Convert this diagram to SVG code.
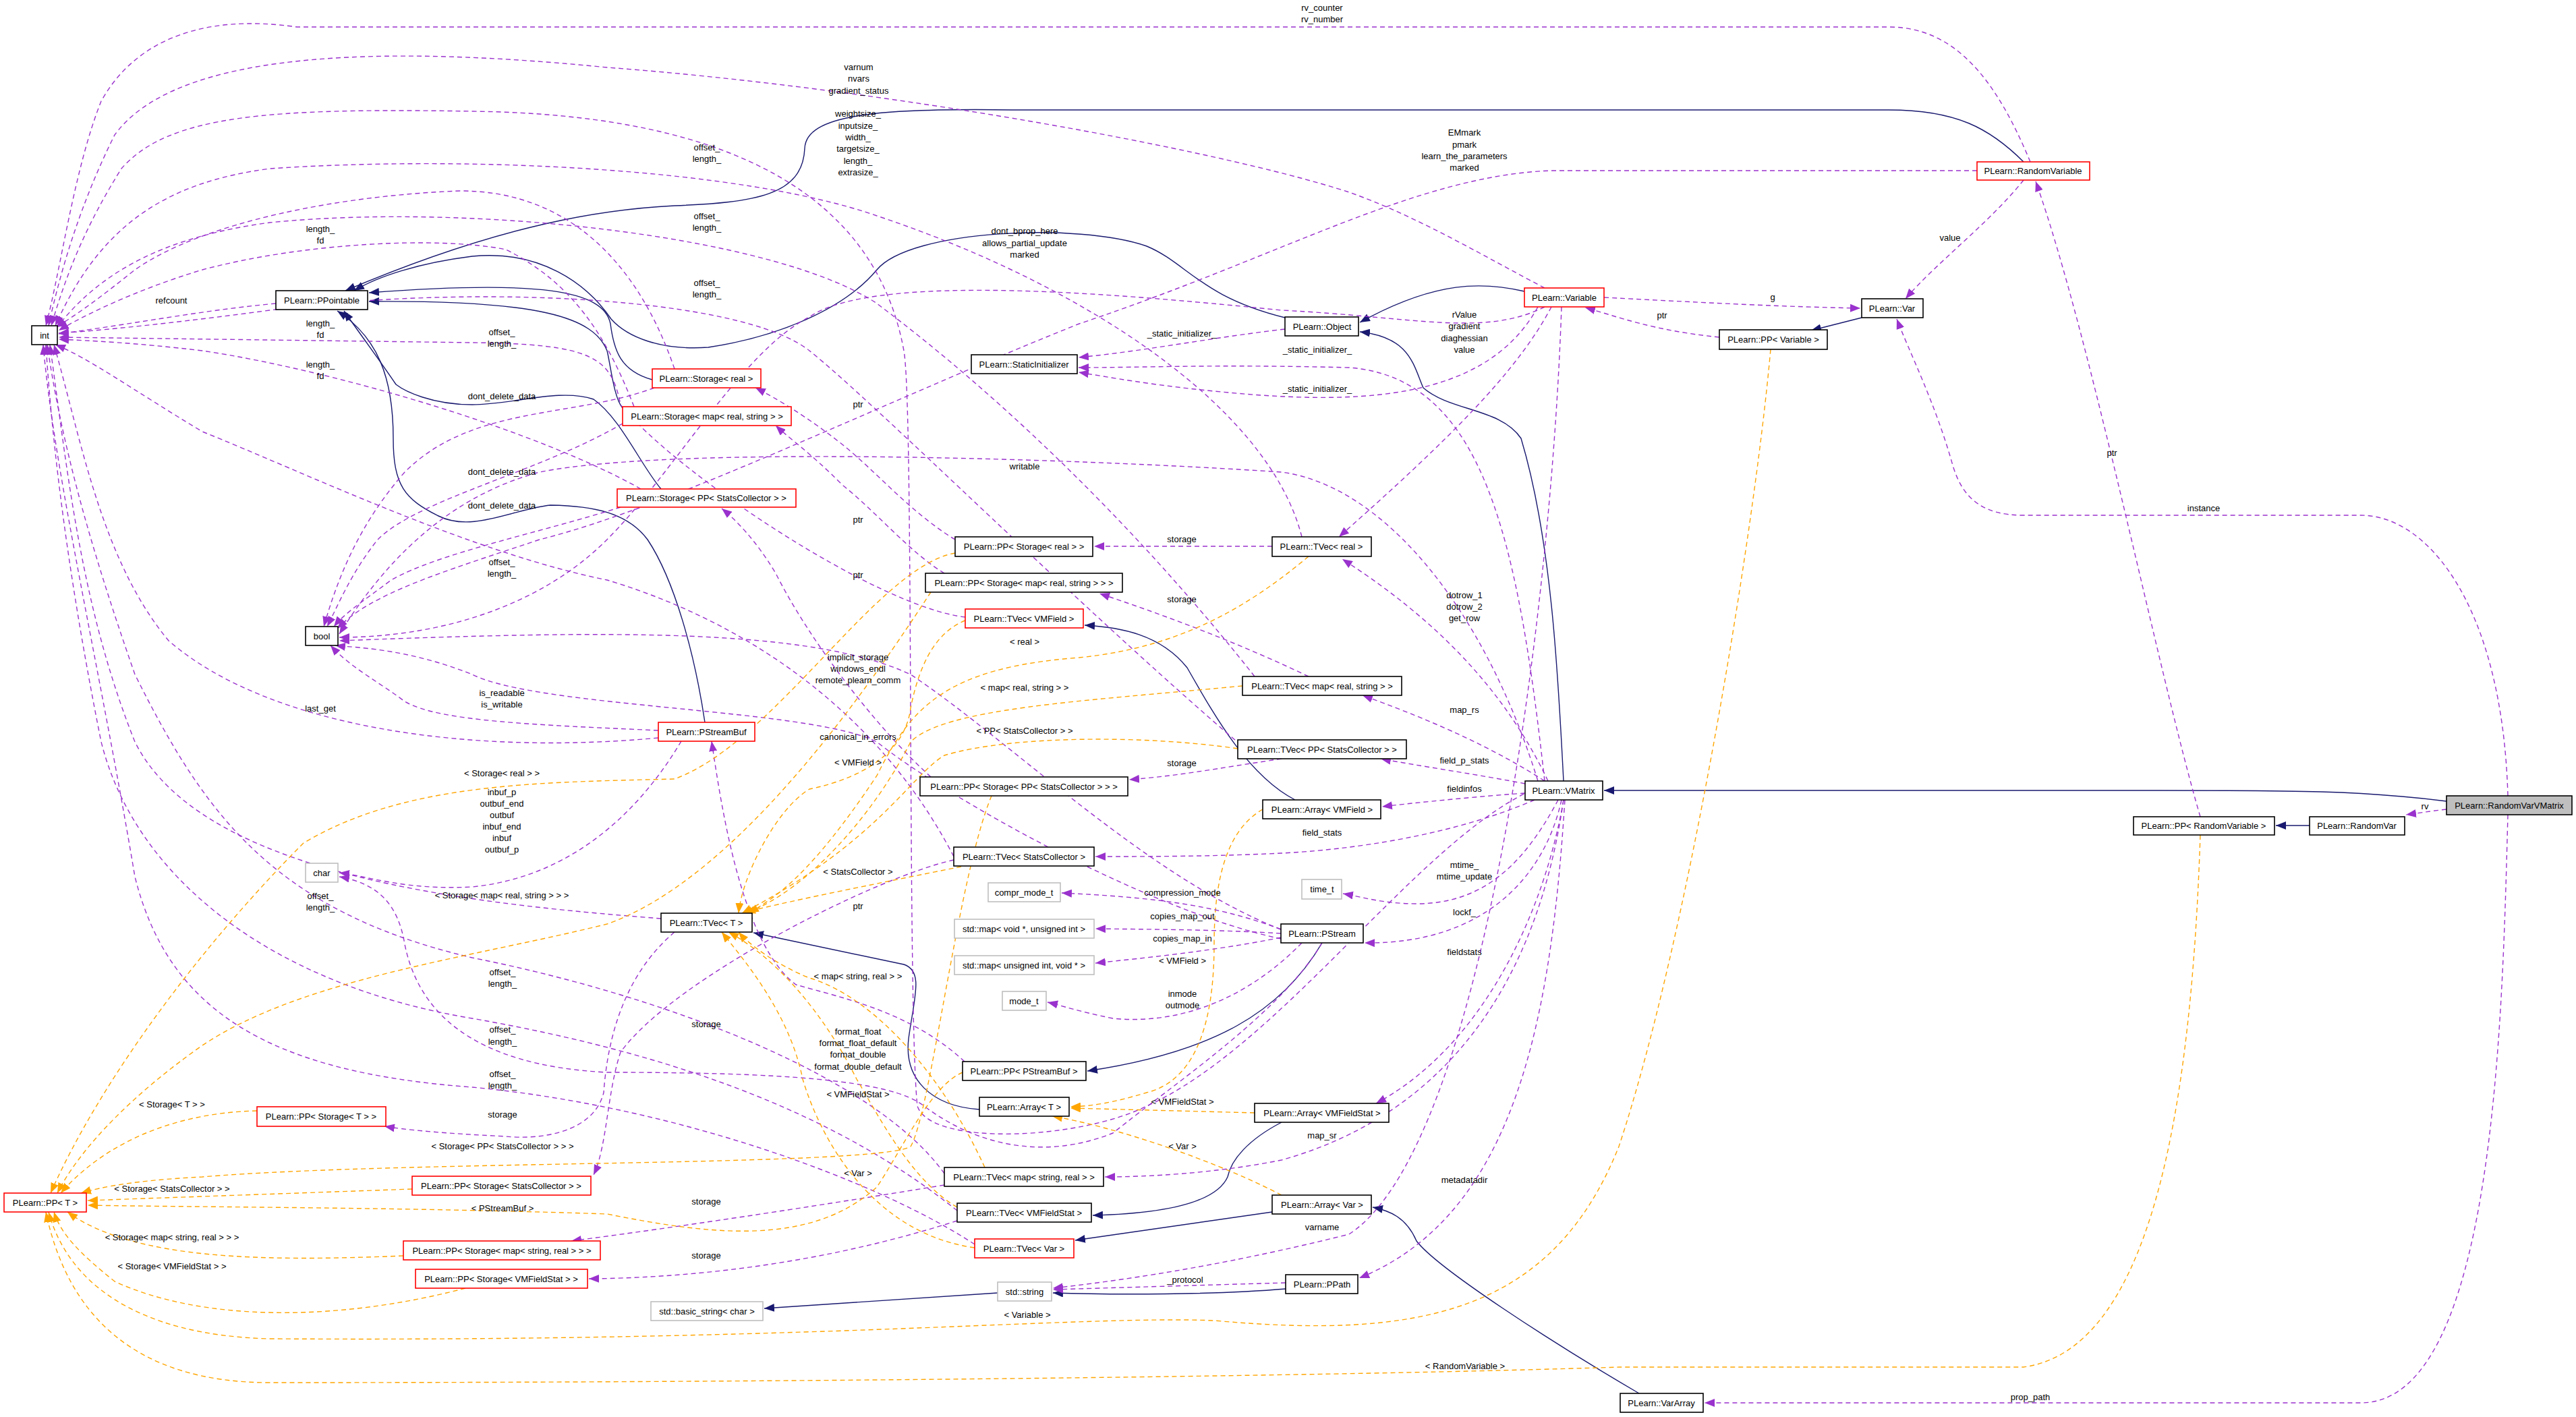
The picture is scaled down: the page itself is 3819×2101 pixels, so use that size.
<svg xmlns="http://www.w3.org/2000/svg" width="3819" height="2101" viewBox="0 0 3819 2101">
<style>
text{font-family:"Liberation Sans",Arial,sans-serif;font-size:13px;fill:#000}
.n text{text-anchor:middle}
.b{fill:#fff;stroke:#000;stroke-width:1.6}
.r{fill:#fff;stroke:#ff0000;stroke-width:1.6}
.g{fill:#fff;stroke:#bfbfbf;stroke-width:1.6}
.s{fill:#bfbfbf;stroke:#000;stroke-width:1.6}
#edges path{fill:none;stroke-width:1.4}
.i{stroke:#191970;marker-end:url(#mi)}
.u{stroke:#9a32cd;stroke-dasharray:7,5;marker-end:url(#mu)}
.t{stroke:#ffa500;stroke-dasharray:7,5;marker-end:url(#mt)}
.l text{text-anchor:middle}
</style>
<defs>
<marker id="mi" markerUnits="userSpaceOnUse" markerWidth="16" markerHeight="12" refX="15" refY="6" orient="auto"><path d="M0,0 L15,6 L0,12 z" fill="#191970"/></marker>
<marker id="mu" markerUnits="userSpaceOnUse" markerWidth="16" markerHeight="12" refX="15" refY="6" orient="auto"><path d="M0,0 L15,6 L0,12 z" fill="#9a32cd"/></marker>
<marker id="mt" markerUnits="userSpaceOnUse" markerWidth="16" markerHeight="12" refX="15" refY="6" orient="auto"><path d="M0,0 L15,6 L0,12 z" fill="#ffa500"/></marker>
</defs>
<rect width="3819" height="2101" fill="#fff"/>
<g id="edges">
<!-- inheritance -->
<path class="i" d="M3627,1188 C3500,1172 3400,1172 3200,1172 L2378,1172"/>
<path class="i" d="M3424,1224 L3374,1224"/>
<path class="i" d="M2430,2066 C2300,1990 2130,1880 2100,1840 C2085,1805 2060,1795 2035,1790"/>
<path class="i" d="M1886,1797 L1594,1839"/>
<path class="i" d="M1900,1664 C1850,1690 1825,1720 1820,1745 C1800,1790 1700,1800 1620,1802"/>
<path class="i" d="M1920,1186 C1850,1150 1800,1060 1760,990 C1720,940 1660,930 1608,927"/>
<path class="i" d="M1452,1645 C1380,1640 1340,1600 1347,1540 C1355,1480 1370,1440 1340,1430 L1117,1383"/>
<path class="i" d="M1960,1398 C1900,1500 1800,1560 1612,1588"/>
<path class="i" d="M1906,1911 C1800,1920 1650,1920 1561,1917"/>
<path class="i" d="M1479,1917 L1133,1940"/>
<path class="i" d="M3000,240 C2950,190 2900,163 2800,163 L1500,163 C1300,160 1195,170 1193,220 C1190,290 1120,300 1000,305 C900,310 750,330 512,431"/>
<path class="i" d="M1905,471 C1780,440 1760,390 1700,365 C1600,330 1350,340 1300,400 C1250,460 1150,500 1050,515 C980,520 930,500 906,473 C870,420 800,370 700,380 C620,390 560,410 525,431"/>
<path class="i" d="M967,563 C920,550 910,520 905,480 C895,430 800,415 547,434"/>
<path class="i" d="M923,605 C910,590 905,540 900,520 C880,470 800,445 547,447"/>
<path class="i" d="M980,725 C950,690 920,620 880,592 C830,575 760,600 700,600 C640,600 600,580 587,570 C560,530 530,490 510,461"/>
<path class="i" d="M1045,1071 C1030,970 1000,860 960,800 C930,760 880,750 816,749 C760,755 700,790 650,765 C600,740 583,720 583,650 C583,560 560,500 500,461"/>
<path class="i" d="M2760,471 L2685,490"/>
<path class="i" d="M2260,432 C2200,418 2130,415 2016,478"/>
<path class="i" d="M2318,1158 C2310,1000 2300,800 2255,650 C2225,605 2150,610 2110,575 C2095,540 2090,500 2016,492"/>
<!-- usage to int -->
<path class="u" d="M3010,240 C2960,120 2900,40 2800,40 L440,40 C300,20 200,60 150,150 C110,250 90,400 68,483"/>
<path class="u" d="M2290,427 C2200,380 2100,320 2000,285 C1800,220 1300,130 900,100 C500,60 250,90 170,200 C120,300 90,400 72,483"/>
<path class="u" d="M2270,1172 C2100,1250 1900,1550 1700,1640 C1600,1690 1380,1700 1360,1640 C1345,1500 1355,600 1340,520 C1300,300 1100,170 700,165 C400,160 250,170 180,250 C130,330 100,400 76,483"/>
<path class="u" d="M409,450 C300,460 200,480 87,495"/>
<path class="u" d="M1000,547 C950,400 850,283 682,283 C500,290 300,330 200,400 C150,440 110,470 82,485"/>
<path class="u" d="M940,603 C900,500 850,420 750,370 C650,350 450,360 300,400 C200,430 120,470 87,490"/>
<path class="u" d="M950,725 C800,640 500,550 300,520 C200,508 130,505 87,503"/>
<path class="u" d="M1930,796 C1880,600 1600,420 1300,320 C1100,250 700,230 400,250 C250,270 150,330 82,483"/>
<path class="u" d="M1860,1003 C1700,800 1500,600 1300,450 C1150,350 700,300 400,330 C250,350 150,400 84,486"/>
<path class="u" d="M1840,1105 C1600,900 1300,600 1200,520 C1100,440 700,420 400,460 C250,480 150,490 87,494"/>
<path class="u" d="M1431,915 C1300,900 1000,700 920,600 C906,530 880,510 700,508 L87,500"/>
<path class="u" d="M1414,1270 C1300,1050 1100,920 900,860 C700,820 450,700 300,640 C200,580 130,530 82,511"/>
<path class="u" d="M980,1362 C700,1340 300,1300 200,1100 C120,900 100,700 74,511"/>
<path class="u" d="M1400,1740 C1300,1600 1000,1480 700,1420 C400,1350 300,1200 200,1000 C130,800 90,650 70,511"/>
<path class="u" d="M1419,1795 C1300,1700 1100,1580 700,1510 C400,1460 200,1300 150,1100 C110,900 80,700 68,511"/>
<path class="u" d="M1445,1845 C1300,1750 1000,1640 700,1612 C400,1590 250,1500 200,1300 C150,1000 80,700 64,511"/>
<path class="u" d="M976,1094 C700,1120 400,1080 250,950 C150,830 120,650 80,511"/>
<!-- usage to bool -->
<path class="u" d="M970,575 C850,620 700,600 600,700 C530,780 500,860 480,929"/>
<path class="u" d="M923,628 C800,700 620,740 560,800 C520,850 500,900 485,929"/>
<path class="u" d="M920,752 C800,790 650,820 580,860 C540,890 510,910 495,929"/>
<path class="u" d="M976,1083 C800,1075 650,1070 600,1040 C560,1010 520,990 490,957"/>
<path class="u" d="M2280,1158 C2200,900 2050,720 1900,700 C1600,680 1000,660 800,700 C650,740 560,850 503,940"/>
<path class="u" d="M2290,455 C2200,500 2100,470 1900,460 C1700,440 1300,400 1200,470 C1100,520 1000,700 900,800 C800,900 650,945 503,945"/>
<path class="u" d="M2931,253 L2300,253 C2100,260 1900,380 1600,480 C1300,600 1000,750 800,800 C650,850 550,880 500,932"/>
<path class="u" d="M1899,1378 C1700,1300 1500,1100 1350,1000 C1200,930 900,935 503,950"/>
<path class="u" d="M1899,1392 C1700,1350 1400,1180 1300,1100 C1200,1050 800,1050 700,1000 C600,960 520,960 497,957"/>
<!-- char -->
<path class="u" d="M1010,1099 C950,1200 850,1300 700,1315 C600,1320 550,1300 503,1294"/>
<path class="u" d="M1960,1398 C1900,1500 1750,1600 1650,1680 C1550,1720 1450,1700 1370,1640 C1320,1600 1150,1590 900,1590 C700,1580 620,1500 600,1400 C590,1340 560,1310 503,1300"/>
<!-- static initializer -->
<path class="u" d="M1905,488 C1800,500 1700,520 1599,530"/>
<path class="u" d="M2290,1158 C2250,800 2200,560 2000,545 C1800,540 1700,545 1599,545"/>
<path class="u" d="M2280,455 C2200,600 2000,600 1800,580 C1700,570 1650,560 1599,552"/>
<!-- var related -->
<path class="u" d="M2378,441 C2550,450 2650,455 2758,457"/>
<path class="u" d="M3000,267 C2950,330 2870,390 2825,443"/>
<path class="u" d="M2549,500 C2450,490 2400,470 2350,456"/>
<path class="u" d="M3718,1180 C3710,900 3600,764 3500,764 L3000,764 C2940,764 2910,740 2895,690 C2870,600 2830,520 2812,473"/>
<path class="u" d="M3718,1208 C3710,1500 3700,2080 3500,2080 L2527,2080"/>
<path class="u" d="M3627,1200 C3600,1203 3590,1205 3567,1208"/>
<path class="u" d="M3262,1211 C3200,1000 3100,500 3018,269"/>
<!-- storage -->
<path class="u" d="M1886,810 L1622,810"/>
<path class="u" d="M1940,1003 C1850,960 1750,920 1630,880"/>
<path class="u" d="M1900,1125 C1800,1140 1750,1150 1674,1156"/>
<path class="u" d="M1414,1275 C1300,1300 1000,1450 920,1560 C900,1620 900,1700 880,1742"/>
<path class="u" d="M1400,1757 C1200,1790 1000,1820 847,1840"/>
<path class="u" d="M1419,1810 C1200,1880 1000,1895 873,1896"/>
<path class="u" d="M1000,1382 C920,1450 900,1550 895,1620 C880,1680 800,1690 750,1685 C650,1680 600,1675 570,1670"/>
<!-- ptr -->
<path class="u" d="M1416,800 C1350,760 1300,700 1250,660 C1200,620 1150,590 1120,575"/>
<path class="u" d="M1400,850 C1350,820 1300,760 1250,720 C1200,670 1170,650 1150,631"/>
<path class="u" d="M1380,1152 C1300,1080 1200,950 1150,850 C1120,800 1090,770 1070,754"/>
<path class="u" d="M1430,1574 C1350,1500 1250,1480 1180,1460 C1100,1400 1070,1200 1055,1099"/>
<!-- templates to PP<T> -->
<path class="t" d="M1416,820 C1300,840 1150,1100 1000,1155 C800,1160 600,1160 450,1250 C300,1400 150,1600 75,1769"/>
<path class="t" d="M1380,878 C1300,1000 1100,1300 900,1370 C700,1420 450,1450 300,1550 C200,1620 120,1700 85,1769"/>
<path class="t" d="M1470,1180 C1420,1300 1380,1650 1350,1700 C1300,1730 600,1720 300,1745 C200,1750 150,1760 120,1769"/>
<path class="t" d="M381,1647 C250,1650 150,1700 90,1769"/>
<path class="t" d="M611,1763 L130,1780"/>
<path class="t" d="M1427,1590 C1380,1610 1340,1700 1300,1760 C1200,1850 1050,1830 900,1800 C600,1790 300,1790 130,1787"/>
<path class="t" d="M598,1862 C400,1870 200,1870 100,1797"/>
<path class="t" d="M690,1910 C500,1960 300,1960 170,1900 C120,1860 90,1830 80,1797"/>
<path class="t" d="M2625,518 C2600,800 2500,1400 2400,1700 C2300,1950 2100,1985 1800,1958 C1600,1950 1200,1990 400,1985 C200,1980 100,1900 72,1797"/>
<path class="t" d="M3262,1238 C3250,1600 3200,2000 3000,2027 L2400,2027 C2000,2040 1200,2050 400,2050 C200,2050 100,1950 68,1797"/>
<!-- templates to TVec<T> -->
<path class="t" d="M1940,825 C1850,900 1750,960 1600,975 C1400,990 1350,1050 1300,1150 C1200,1300 1150,1330 1110,1354"/>
<path class="t" d="M1842,1017 C1600,1040 1400,1050 1350,1100 C1300,1200 1200,1320 1105,1354"/>
<path class="t" d="M1835,1110 C1700,1090 1500,1090 1400,1120 C1350,1150 1300,1250 1100,1354"/>
<path class="t" d="M1431,920 C1380,940 1360,1000 1350,1050 C1340,1130 1250,1160 1200,1170 C1150,1200 1100,1300 1095,1354"/>
<path class="t" d="M1425,1285 C1300,1310 1150,1340 1100,1354"/>
<path class="t" d="M1460,1731 C1400,1600 1300,1480 1200,1450 C1150,1430 1110,1400 1095,1382"/>
<path class="t" d="M1419,1790 C1350,1750 1300,1650 1270,1600 C1220,1500 1150,1420 1080,1382"/>
<path class="t" d="M1445,1850 C1300,1830 1220,1700 1190,1600 C1170,1500 1100,1420 1070,1382"/>
<!-- templates to Array<T> -->
<path class="t" d="M1872,1200 C1820,1230 1800,1300 1800,1400 C1800,1500 1780,1600 1700,1620 C1650,1635 1620,1640 1587,1641"/>
<path class="t" d="M1860,1650 L1587,1643"/>
<path class="t" d="M1900,1772 C1800,1720 1650,1670 1560,1655"/>
<!-- PStream usage -->
<path class="u" d="M1899,1378 C1800,1340 1700,1330 1574,1324"/>
<path class="u" d="M1899,1384 C1800,1378 1700,1378 1624,1377"/>
<path class="u" d="M1899,1390 C1800,1410 1700,1420 1624,1428"/>
<path class="u" d="M1930,1398 C1850,1480 1750,1520 1650,1510 C1600,1500 1570,1490 1553,1486"/>
<!-- VMatrix / Variable usage -->
<path class="u" d="M2295,1158 C2220,1000 2100,900 1990,829"/>
<path class="u" d="M2300,455 C2250,550 2150,650 1985,796"/>
<path class="u" d="M2290,1158 C2200,1100 2100,1060 2020,1031"/>
<path class="u" d="M2261,1162 C2200,1150 2100,1135 2047,1125"/>
<path class="u" d="M2261,1176 C2200,1180 2100,1190 2049,1196"/>
<path class="u" d="M2275,1186 C2150,1240 2000,1260 1900,1265 C1800,1270 1700,1270 1624,1270"/>
<path class="u" d="M2310,1186 C2260,1280 2200,1340 2100,1340 C2050,1340 2020,1330 1991,1325"/>
<path class="u" d="M2315,1186 C2290,1300 2200,1400 2023,1398"/>
<path class="u" d="M2318,1186 C2290,1350 2200,1550 2040,1636"/>
<path class="u" d="M2318,1186 C2280,1450 2150,1650 1900,1720 C1800,1740 1700,1745 1638,1745"/>
<path class="u" d="M2320,1186 C2300,1500 2250,1800 2015,1895"/>
<path class="u" d="M2315,455 C2300,900 2200,1700 2000,1830 C1800,1880 1650,1900 1561,1910"/>
<path class="u" d="M1906,1902 C1800,1905 1700,1908 1561,1912"/>
</g>
<g class="l">
<text x="1960" y="16">rv_counter</text><text x="1960" y="33">rv_number</text>
<text x="1273" y="104">varnum</text><text x="1273" y="121">nvars</text><text x="1273" y="139">gradient_status</text>
<text x="1272" y="173">weightsize_</text><text x="1272" y="191">inputsize_</text><text x="1272" y="208">width_</text><text x="1272" y="225">targetsize_</text><text x="1272" y="243">length_</text><text x="1272" y="260">extrasize_</text>
<text x="2171" y="201">EMmark</text><text x="2171" y="219">pmark</text><text x="2171" y="236">learn_the_parameters</text><text x="2171" y="253">marked</text>
<text x="1048" y="223">offset_</text><text x="1048" y="240">length_</text>
<text x="1048" y="325">offset_</text><text x="1048" y="342">length_</text>
<text x="1048" y="424">offset_</text><text x="1048" y="441">length_</text>
<text x="744" y="497">offset_</text><text x="744" y="514">length_</text>
<text x="744" y="838">offset_</text><text x="744" y="855">length_</text>
<text x="475" y="1333">offset_</text><text x="475" y="1350">length_</text>
<text x="745" y="1446">offset_</text><text x="745" y="1463">length_</text>
<text x="745" y="1531">offset_</text><text x="745" y="1549">length_</text>
<text x="745" y="1597">offset_</text><text x="745" y="1614">length_</text>
<text x="475" y="344">length_</text><text x="475" y="361">fd</text>
<text x="475" y="484">length_</text><text x="475" y="501">fd</text>
<text x="475" y="545">length_</text><text x="475" y="562">fd</text>
<text x="254" y="450">refcount</text>
<text x="744" y="592">dont_delete_data</text>
<text x="744" y="704">dont_delete_data</text>
<text x="744" y="754">dont_delete_data</text>
<text x="744" y="1032">is_readable</text><text x="744" y="1049">is_writable</text>
<text x="475" y="1055">last_get</text>
<text x="1519" y="347">dont_bprop_here</text><text x="1519" y="365">allows_partial_update</text><text x="1519" y="382">marked</text>
<text x="1519" y="696">writable</text>
<text x="1272" y="979">implicit_storage</text><text x="1272" y="996">windows_endl</text><text x="1272" y="1013">remote_plearn_comm</text>
<text x="1272" y="1097">canonical_in_errors</text>
<text x="744" y="1179">inbuf_p</text><text x="744" y="1196">outbuf_end</text><text x="744" y="1213">outbuf</text><text x="744" y="1230">inbuf_end</text><text x="744" y="1247">inbuf</text><text x="744" y="1264">outbuf_p</text>
<text x="1752" y="499">_static_initializer_</text>
<text x="1953" y="523">_static_initializer_</text>
<text x="1953" y="581">_static_initializer_</text>
<text x="2628" y="445">g</text>
<text x="2891" y="357">value</text>
<text x="2464" y="472">ptr</text>
<text x="3267" y="758">instance</text>
<text x="3010" y="2076">prop_path</text>
<text x="3595" y="1200">rv</text>
<text x="3131" y="676">ptr</text>
<text x="2171" y="471">rValue</text><text x="2171" y="488">gradient</text><text x="2171" y="506">diaghessian</text><text x="2171" y="523">value</text>
<text x="1752" y="804">storage</text>
<text x="1752" y="893">storage</text>
<text x="1752" y="1136">storage</text>
<text x="1047" y="1523">storage</text>
<text x="1047" y="1786">storage</text>
<text x="1047" y="1866">storage</text>
<text x="745" y="1657">storage</text>
<text x="1272" y="604">ptr</text>
<text x="1272" y="775">ptr</text>
<text x="1272" y="857">ptr</text>
<text x="1272" y="1348">ptr</text>
<text x="744" y="1151">&lt; Storage&lt; real &gt; &gt;</text>
<text x="744" y="1332">&lt; Storage&lt; map&lt; real, string &gt; &gt; &gt;</text>
<text x="745" y="1704">&lt; Storage&lt; PP&lt; StatsCollector &gt; &gt; &gt;</text>
<text x="255" y="1642">&lt; Storage&lt; T &gt; &gt;</text>
<text x="255" y="1767">&lt; Storage&lt; StatsCollector &gt; &gt;</text>
<text x="745" y="1796">&lt; PStreamBuf &gt;</text>
<text x="255" y="1839">&lt; Storage&lt; map&lt; string, real &gt; &gt; &gt;</text>
<text x="255" y="1882">&lt; Storage&lt; VMFieldStat &gt; &gt;</text>
<text x="1523" y="1954">&lt; Variable &gt;</text>
<text x="2172" y="2030">&lt; RandomVariable &gt;</text>
<text x="1519" y="956">&lt; real &gt;</text>
<text x="1519" y="1024">&lt; map&lt; real, string &gt; &gt;</text>
<text x="1519" y="1088">&lt; PP&lt; StatsCollector &gt; &gt;</text>
<text x="1272" y="1135">&lt; VMField &gt;</text>
<text x="1272" y="1297">&lt; StatsCollector &gt;</text>
<text x="1272" y="1452">&lt; map&lt; string, real &gt; &gt;</text>
<text x="1272" y="1627">&lt; VMFieldStat &gt;</text>
<text x="1272" y="1744">&lt; Var &gt;</text>
<text x="1753" y="1429">&lt; VMField &gt;</text>
<text x="1753" y="1638">&lt; VMFieldStat &gt;</text>
<text x="1753" y="1704">&lt; Var &gt;</text>
<text x="1753" y="1328">compression_mode</text>
<text x="1753" y="1363">copies_map_out</text>
<text x="1753" y="1396">copies_map_in</text>
<text x="1753" y="1478">inmode</text><text x="1753" y="1495">outmode</text>
<text x="1272" y="1534">format_float</text><text x="1272" y="1551">format_float_default</text><text x="1272" y="1568">format_double</text><text x="1272" y="1586">format_double_default</text>
<text x="2171" y="887">dotrow_1</text><text x="2171" y="904">dotrow_2</text><text x="2171" y="921">get_row</text>
<text x="2171" y="1057">map_rs</text>
<text x="2171" y="1132">field_p_stats</text>
<text x="2171" y="1174">fieldinfos</text>
<text x="1960" y="1239">field_stats</text>
<text x="2171" y="1287">mtime_</text><text x="2171" y="1304">mtime_update</text>
<text x="2171" y="1357">lockf_</text>
<text x="2171" y="1416">fieldstats</text>
<text x="1960" y="1688">map_sr</text>
<text x="2171" y="1754">metadatadir</text>
<text x="1960" y="1824">varname</text>
<text x="1757" y="1902">_protocol</text>
</g>
<g class="n">
<g id="n_int"><rect class="b" x="47" y="483" width="38" height="28"/><text x="66" y="502">int</text></g>
<g id="n_ppointable"><rect class="b" x="409" y="431" width="136" height="28"/><text x="477" y="450">PLearn::PPointable</text></g>
<g id="n_staticinit"><rect class="b" x="1440" y="526" width="157" height="28"/><text x="1518" y="545">PLearn::StaticInitializer</text></g>
<g id="n_object"><rect class="b" x="1905" y="470" width="109" height="28"/><text x="1960" y="489">PLearn::Object</text></g>
<g id="n_randomvariable"><rect class="r" x="2931" y="240" width="167" height="27"/><text x="3014" y="258">PLearn::RandomVariable</text></g>
<g id="n_variable"><rect class="r" x="2260" y="427" width="118" height="28"/><text x="2319" y="446">PLearn::Variable</text></g>
<g id="n_var"><rect class="b" x="2760" y="443" width="91" height="28"/><text x="2805" y="462">PLearn::Var</text></g>
<g id="n_ppvariable"><rect class="b" x="2549" y="489" width="160" height="29"/><text x="2629" y="508">PLearn::PP&lt; Variable &gt;</text></g>
<g id="n_storage_real"><rect class="r" x="967" y="547" width="161" height="28"/><text x="1047" y="566">PLearn::Storage&lt; real &gt;</text></g>
<g id="n_storage_map"><rect class="r" x="923" y="603" width="250" height="28"/><text x="1048" y="622">PLearn::Storage&lt; map&lt; real, string &gt; &gt;</text></g>
<g id="n_storage_ppsc"><rect class="r" x="915" y="725" width="265" height="27"/><text x="1047" y="743">PLearn::Storage&lt; PP&lt; StatsCollector &gt; &gt;</text></g>
<g id="n_pp_storage_real"><rect class="b" x="1416" y="796" width="204" height="29"/><text x="1518" y="815">PLearn::PP&lt; Storage&lt; real &gt; &gt;</text></g>
<g id="n_tvec_real"><rect class="b" x="1886" y="796" width="147" height="29"/><text x="1959" y="815">PLearn::TVec&lt; real &gt;</text></g>
<g id="n_pp_storage_map"><rect class="b" x="1372" y="850" width="292" height="28"/><text x="1518" y="869">PLearn::PP&lt; Storage&lt; map&lt; real, string &gt; &gt; &gt;</text></g>
<g id="n_tvec_vmfield"><rect class="r" x="1431" y="903" width="175" height="28"/><text x="1518" y="922">PLearn::TVec&lt; VMField &gt;</text></g>
<g id="n_bool"><rect class="b" x="453" y="929" width="48" height="28"/><text x="477" y="948">bool</text></g>
<g id="n_tvec_map_rs"><rect class="b" x="1842" y="1003" width="236" height="28"/><text x="1960" y="1022">PLearn::TVec&lt; map&lt; real, string &gt; &gt;</text></g>
<g id="n_pstreambuf"><rect class="r" x="976" y="1071" width="143" height="28"/><text x="1047" y="1090">PLearn::PStreamBuf</text></g>
<g id="n_tvec_ppsc"><rect class="b" x="1835" y="1097" width="250" height="28"/><text x="1960" y="1116">PLearn::TVec&lt; PP&lt; StatsCollector &gt; &gt;</text></g>
<g id="n_pp_storage_ppsc"><rect class="b" x="1364" y="1152" width="308" height="28"/><text x="1518" y="1171">PLearn::PP&lt; Storage&lt; PP&lt; StatsCollector &gt; &gt; &gt;</text></g>
<g id="n_vmatrix"><rect class="b" x="2261" y="1158" width="115" height="28"/><text x="2318" y="1177">PLearn::VMatrix</text></g>
<g id="n_randomvarvmatrix"><rect class="s" x="3627" y="1180" width="186" height="28"/><text x="3720" y="1199">PLearn::RandomVarVMatrix</text></g>
<g id="n_array_vmfield"><rect class="b" x="1872" y="1186" width="175" height="28"/><text x="1960" y="1205">PLearn::Array&lt; VMField &gt;</text></g>
<g id="n_pp_randomvariable"><rect class="b" x="3163" y="1211" width="209" height="27"/><text x="3267" y="1229">PLearn::PP&lt; RandomVariable &gt;</text></g>
<g id="n_randomvar"><rect class="b" x="3424" y="1211" width="141" height="27"/><text x="3494" y="1229">PLearn::RandomVar</text></g>
<g id="n_tvec_sc"><rect class="b" x="1414" y="1256" width="208" height="28"/><text x="1518" y="1275">PLearn::TVec&lt; StatsCollector &gt;</text></g>
<g id="n_char"><rect class="g" x="453" y="1280" width="48" height="28"/><text x="477" y="1299">char</text></g>
<g id="n_time_t"><rect class="g" x="1930" y="1304" width="59" height="29"/><text x="1960" y="1323">time_t</text></g>
<g id="n_compr_mode_t"><rect class="g" x="1465" y="1309" width="107" height="28"/><text x="1518" y="1328">compr_mode_t</text></g>
<g id="n_tvec_t"><rect class="b" x="980" y="1354" width="135" height="28"/><text x="1047" y="1373">PLearn::TVec&lt; T &gt;</text></g>
<g id="n_map_voidp"><rect class="g" x="1415" y="1363" width="207" height="28"/><text x="1518" y="1382">std::map&lt; void *, unsigned int &gt;</text></g>
<g id="n_pstream"><rect class="b" x="1899" y="1370" width="122" height="28"/><text x="1960" y="1389">PLearn::PStream</text></g>
<g id="n_map_uint"><rect class="g" x="1415" y="1417" width="207" height="28"/><text x="1518" y="1436">std::map&lt; unsigned int, void * &gt;</text></g>
<g id="n_mode_t"><rect class="g" x="1486" y="1470" width="65" height="28"/><text x="1518" y="1489">mode_t</text></g>
<g id="n_pp_pstreambuf"><rect class="b" x="1427" y="1574" width="183" height="28"/><text x="1518" y="1593">PLearn::PP&lt; PStreamBuf &gt;</text></g>
<g id="n_array_t"><rect class="b" x="1452" y="1627" width="133" height="28"/><text x="1518" y="1646">PLearn::Array&lt; T &gt;</text></g>
<g id="n_array_vmfieldstat"><rect class="b" x="1860" y="1636" width="199" height="28"/><text x="1960" y="1655">PLearn::Array&lt; VMFieldStat &gt;</text></g>
<g id="n_pp_storage_t"><rect class="r" x="381" y="1641" width="191" height="29"/><text x="476" y="1660">PLearn::PP&lt; Storage&lt; T &gt; &gt;</text></g>
<g id="n_tvec_map_sr"><rect class="b" x="1400" y="1731" width="236" height="28"/><text x="1518" y="1750">PLearn::TVec&lt; map&lt; string, real &gt; &gt;</text></g>
<g id="n_pp_storage_sc"><rect class="r" x="611" y="1744" width="265" height="28"/><text x="743" y="1763">PLearn::PP&lt; Storage&lt; StatsCollector &gt; &gt;</text></g>
<g id="n_pp_t"><rect class="r" x="6" y="1769" width="122" height="28"/><text x="67" y="1788">PLearn::PP&lt; T &gt;</text></g>
<g id="n_array_var"><rect class="b" x="1886" y="1772" width="147" height="28"/><text x="1960" y="1791">PLearn::Array&lt; Var &gt;</text></g>
<g id="n_tvec_vmfieldstat"><rect class="b" x="1419" y="1784" width="199" height="28"/><text x="1518" y="1803">PLearn::TVec&lt; VMFieldStat &gt;</text></g>
<g id="n_tvec_var"><rect class="r" x="1445" y="1837" width="147" height="28"/><text x="1518" y="1856">PLearn::TVec&lt; Var &gt;</text></g>
<g id="n_pp_storage_map_sr"><rect class="r" x="598" y="1840" width="292" height="28"/><text x="744" y="1859">PLearn::PP&lt; Storage&lt; map&lt; string, real &gt; &gt; &gt;</text></g>
<g id="n_pp_storage_vmfieldstat"><rect class="r" x="616" y="1882" width="255" height="28"/><text x="743" y="1901">PLearn::PP&lt; Storage&lt; VMFieldStat &gt; &gt;</text></g>
<g id="n_ppath"><rect class="b" x="1906" y="1890" width="107" height="28"/><text x="1960" y="1909">PLearn::PPath</text></g>
<g id="n_string"><rect class="g" x="1479" y="1901" width="80" height="28"/><text x="1519" y="1920">std::string</text></g>
<g id="n_basic_string"><rect class="g" x="965" y="1930" width="166" height="28"/><text x="1048" y="1949">std::basic_string&lt; char &gt;</text></g>
<g id="n_vararray"><rect class="b" x="2402" y="2066" width="123" height="28"/><text x="2463" y="2085">PLearn::VarArray</text></g>
</g>
</svg>
